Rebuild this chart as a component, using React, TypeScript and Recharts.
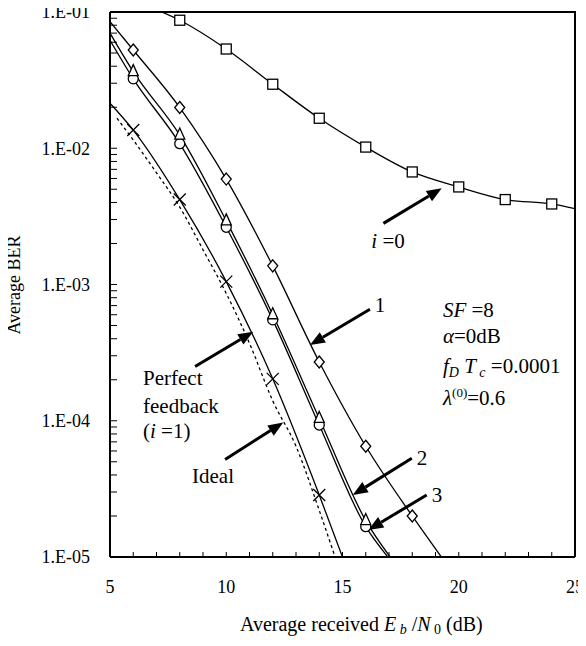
import React from "react";
import { ComposedChart, Line, XAxis, YAxis, ReferenceLine, ReferenceDot } from "recharts";

const FONT = "Liberation Serif, Times New Roman, serif";

// average BER vs Eb/N0 (dB); markers sit on even dB values
const iter0 = [
  { x: 7, y: 0.104 }, { x: 8, y: 0.087 }, { x: 10, y: 0.0535 }, { x: 12, y: 0.0295 },
  { x: 14, y: 0.0166 }, { x: 16, y: 0.0102 }, { x: 18, y: 0.0067 }, { x: 20, y: 0.0052 },
  { x: 22, y: 0.0042 }, { x: 24, y: 0.0039 }, { x: 25, y: 0.0036 },
];
const iter1 = [
  { x: 5, y: 0.085 }, { x: 6, y: 0.0526 }, { x: 8, y: 0.0199 }, { x: 10, y: 0.00594 },
  { x: 12, y: 0.00137 }, { x: 14, y: 0.00027 }, { x: 16, y: 6.5e-5 }, { x: 18, y: 2.0e-5 },
  { x: 19.25, y: 1e-5 },
];
const iter2 = [
  { x: 5, y: 0.07 }, { x: 6, y: 0.0365 }, { x: 8, y: 0.0125 }, { x: 10, y: 0.00293 },
  { x: 12, y: 0.0006 }, { x: 14, y: 1.04e-4 }, { x: 16, y: 1.85e-5 }, { x: 17.05, y: 1e-5 },
];
const iter3 = [
  { x: 5, y: 0.062 }, { x: 6, y: 0.0323 }, { x: 8, y: 0.0108 }, { x: 10, y: 0.00263 },
  { x: 12, y: 0.00055 }, { x: 14, y: 9.3e-5 }, { x: 16, y: 1.67e-5 }, { x: 16.95, y: 1e-5 },
];
const ideal = [
  { x: 5, y: 0.0214 }, { x: 6, y: 0.0136 }, { x: 8, y: 0.0042 }, { x: 10, y: 0.00105 },
  { x: 12, y: 0.000203 }, { x: 14, y: 2.85e-5 }, { x: 15, y: 1e-5 },
];
const perfectFb = [
  { x: 5.3, y: 0.0166 }, { x: 6, y: 0.0115 }, { x: 7, y: 0.0066 }, { x: 8, y: 0.0037 },
  { x: 9, y: 0.0018 }, { x: 10, y: 0.00086 }, { x: 11, y: 0.00037 }, { x: 12, y: 0.00014 },
  { x: 13, y: 6.5e-5 }, { x: 14, y: 2.2e-5 }, { x: 14.68, y: 1e-5 },
];

const decades = [1e-5, 1e-4, 1e-3, 1e-2, 1e-1];
const yTicks = decades.flatMap((d) => (d < 0.1 ? [1, 2, 3, 4, 5, 6, 7, 8, 9].map((m) => m * d) : [d]));
const xTicks = [5, 6, 7, 8, 9, 10, 11, 12, 13, 14, 15, 16, 17, 18, 19, 20, 21, 22, 23, 24, 25];
const xLabels = [5, 10, 15, 20, 25];

// annotation arrows, [tail, head] in data units
const arrows = [
  [{ x: 16.76, y: 0.00281 }, { x: 19.27, y: 0.00508 }],
  [{ x: 16.18, y: 6.58e-4 }, { x: 13.6, y: 3.6e-4 }],
  [{ x: 17.98, y: 5.3e-5 }, { x: 15.44, y: 2.85e-5 }],
  [{ x: 18.62, y: 2.85e-5 }, { x: 16.11, y: 1.58e-5 }],
  [{ x: 8.66, y: 2.5e-4 }, { x: 11.16, y: 4.5e-4 }],
  [{ x: 9.95, y: 5.2e-5 }, { x: 12.45, y: 9.7e-5 }],
];

const W = 586;
const H = 646;
const M = { top: 12, right: 11, bottom: 0, left: 0 };
const Y_AXIS_W = 110;
const X_AXIS_H = 89;

const isDecade = (v: number) => Math.abs(Math.log10(v) - Math.round(Math.log10(v))) < 1e-6;

const txt = { fontFamily: FONT, fill: "#000" };

function YTick(props: any) {
  const { x, y, payload } = props;
  const v = payload.value;
  const major = isDecade(v);
  return (
    <g>
      <line x1={x} x2={x + 7} y1={y} y2={y} stroke="#000" strokeWidth={1} />
      {major && (
        <text x={x - 20} y={y} dy="0.35em" textAnchor="end" fontSize={18} {...txt}>
          {`1.E-0${-Math.round(Math.log10(v))}`}
        </text>
      )}
    </g>
  );
}

function XTick(props: any) {
  const { x, y, payload } = props;
  return (
    <g>
      <line x1={x} x2={x} y1={y} y2={y - 5} stroke="#000" strokeWidth={1} />
      {xLabels.includes(payload.value) && (
        <text x={x} y={y + 30} dy="0.35em" textAnchor="middle" fontSize={18} {...txt}>
          {payload.value}
        </text>
      )}
    </g>
  );
}

function Arrow(p: any) {
  const { x1, y1, x2, y2 } = p;
  const len = Math.hypot(x2 - x1, y2 - y1);
  const ux = (x2 - x1) / len;
  const uy = (y2 - y1) / len;
  const bx = x2 - ux * 15;
  const by = y2 - uy * 15;
  return (
    <g>
      <line x1={x1} y1={y1} x2={bx} y2={by} stroke="#000" strokeWidth={3} />
      <polygon points={`${x2},${y2} ${bx - uy * 6},${by + ux * 6} ${bx + uy * 6},${by - ux * 6}`} fill="#000" />
    </g>
  );
}

const onMark = (p: any) => p.payload && p.payload.x % 2 === 0;
const blank = (p: any) => <g key={`b${p.index}`} />;
const sq = (p: any) =>
  onMark(p) ? <rect key={`s${p.index}`} x={p.cx - 5} y={p.cy - 5} width={10} height={10} fill="#fff" stroke="#000" strokeWidth={1.3} /> : blank(p);
const dia = (p: any) =>
  onMark(p) ? (
    <polygon key={`d${p.index}`} points={`${p.cx},${p.cy - 6} ${p.cx + 5},${p.cy} ${p.cx},${p.cy + 6} ${p.cx - 5},${p.cy}`} fill="#fff" stroke="#000" strokeWidth={1.3} />
  ) : blank(p);
const tri = (p: any) =>
  onMark(p) ? (
    <polygon key={`t${p.index}`} points={`${p.cx},${p.cy - 7} ${p.cx + 5},${p.cy + 4} ${p.cx - 5},${p.cy + 4}`} fill="#fff" stroke="#000" strokeWidth={1.3} />
  ) : blank(p);
const circ = (p: any) =>
  onMark(p) ? <circle key={`c${p.index}`} cx={p.cx} cy={p.cy} r={5} fill="#fff" stroke="#000" strokeWidth={1.3} /> : blank(p);
const cross = (p: any) =>
  onMark(p) ? (
    <path key={`x${p.index}`} d={`M${p.cx - 6},${p.cy - 6}L${p.cx + 6},${p.cy + 6}M${p.cx - 6},${p.cy + 6}L${p.cx + 6},${p.cy - 6}`} stroke="#000" strokeWidth={1.3} />
  ) : blank(p);

const label = (content: React.ReactNode, anchor = "start") => (p: any) => (
  <text x={p.cx} y={p.cy} textAnchor={anchor} fontSize={21} {...txt}>
    {content}
  </text>
);

export default function App() {
  const lineProps = { type: "monotone" as const, dataKey: "y", stroke: "#000", strokeWidth: 1.3, isAnimationActive: false };
  const plotL = M.left + Y_AXIS_W;
  const plotR = W - M.right;
  const plotT = M.top;
  const plotB = H - M.bottom - X_AXIS_H;
  return (
    <div style={{ margin: -8, width: W, height: H }}>
      <ComposedChart width={W} height={H} margin={M}>
        <XAxis type="number" dataKey="x" domain={[5, 25]} ticks={xTicks} interval={0} allowDataOverflow
          tickSize={0} tickMargin={0} tickLine={false} tick={XTick} height={X_AXIS_H}
          axisLine={{ stroke: "#000", strokeWidth: 2 }} />
        <YAxis type="number" scale="log" domain={[1e-5, 0.1]} ticks={yTicks} interval={0} allowDataOverflow
          tickSize={0} tickMargin={0} tickLine={false} tick={YTick} width={Y_AXIS_W}
          axisLine={{ stroke: "#000", strokeWidth: 2 }} />

        {/* top and right border of the plot box */}
        <polyline points={`${plotL},${plotT} ${plotR},${plotT} ${plotR},${plotB}`} fill="none" stroke="#000" strokeWidth={2} />

        <Line {...lineProps} data={perfectFb} dot={false} strokeDasharray="3 3" />
        <Line {...lineProps} data={ideal} dot={cross} />
        <Line {...lineProps} data={iter3} dot={circ} />
        <Line {...lineProps} data={iter2} dot={tri} />
        <Line {...lineProps} data={iter1} dot={dia} />
        <Line {...lineProps} data={iter0} dot={sq} />

        {arrows.map((a, i) => (
          <ReferenceLine key={i} segment={a} shape={Arrow} />
        ))}

        <ReferenceDot x={16.96} y={1.85e-3} shape={label(<><tspan fontStyle="italic">i</tspan> =0</>, "middle")} />
        <ReferenceDot x={16.61} y={6.28e-4} shape={label("1", "middle")} />
        <ReferenceDot x={18.42} y={4.73e-5} shape={label("2", "middle")} />
        <ReferenceDot x={19.06} y={2.54e-5} shape={label("3", "middle")} />
        <ReferenceDot x={6.42} y={1.83e-4} shape={label("Perfect")} />
        <ReferenceDot x={6.42} y={1.14e-4} shape={label("feedback")} />
        <ReferenceDot x={6.42} y={7.46e-5} shape={label(<>(<tspan fontStyle="italic">i</tspan> =1)</>)} />
        <ReferenceDot x={9.43} y={3.49e-5} shape={label("Ideal", "middle")} />

        <ReferenceDot x={19.32} y={5.77e-4} shape={label(<><tspan fontStyle="italic">SF</tspan> =8</>)} />
        <ReferenceDot x={19.32} y={3.72e-4} shape={label(<><tspan fontStyle="italic">α</tspan>=0dB</>)} />
        <ReferenceDot x={19.32} y={2.24e-4} shape={label(
          <>
            <tspan fontStyle="italic">f</tspan>
            <tspan fontStyle="italic" fontSize={14} dy={4}>D</tspan>
            <tspan fontStyle="italic" dy={-4}> T</tspan>
            <tspan fontStyle="italic" fontSize={14} dy={4}> c</tspan>
            <tspan dy={-4}> =0.0001</tspan>
          </>
        )} />
        <ReferenceDot x={19.32} y={1.31e-4} shape={label(
          <>
            <tspan fontStyle="italic">λ</tspan>
            <tspan fontSize={13} dy={-8}>(0)</tspan>
            <tspan dy={8}>=0.6</tspan>
          </>
        )} />

        <text x={14} y={285} transform="rotate(-90 14 285)" textAnchor="middle" dominantBaseline="central" fontSize={18} {...txt}>
          Average BER
        </text>
        <text x={240} y={631} fontSize={20} {...txt}>
          Average received <tspan fontStyle="italic">E</tspan>
          <tspan fontStyle="italic" fontSize={14} dy={3}> b</tspan>
          <tspan dy={-3}> /</tspan>
          <tspan fontStyle="italic">N</tspan>
          <tspan fontSize={14} dy={3}> 0</tspan>
          <tspan dy={-3}> (dB)</tspan>
        </text>
      </ComposedChart>
    </div>
  );
}
